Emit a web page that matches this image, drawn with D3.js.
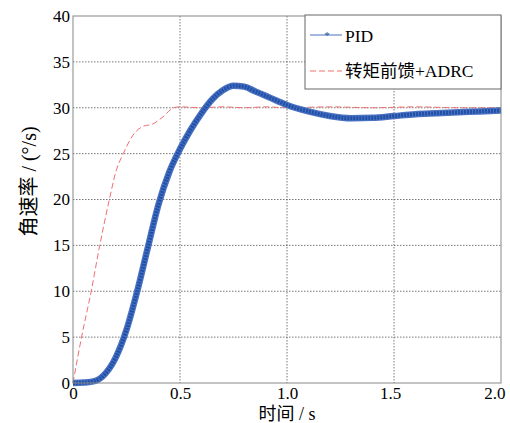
<!DOCTYPE html>
<html>
<head>
<meta charset="utf-8">
<script src="https://cdn.jsdelivr.net/npm/d3@7"></script>
<style>
  body { margin: 0; background: #fff; }
  text { font-family: "Liberation Serif", "Noto Sans CJK SC", serif; }
</style>
</head>
<body>
<div id="chart"></div>
<script>
// data
const pidTime = [0, 0.05, 0.1, 0.15, 0.2, 0.25, 0.3, 0.35, 0.4, 0.45, 0.5, 0.55, 0.6, 0.65, 0.7, 0.75, 0.8, 0.85, 0.9, 0.95, 1.0, 1.1, 1.2, 1.3, 1.4, 1.5, 1.6, 1.7, 1.8, 1.9, 2.0];
const pidRate = [0, 0.05, 0.2, 1.0, 2.8, 5.8, 10, 14.8, 19.5, 23, 25.5, 27.6, 29.4, 30.9, 31.9, 32.4, 32.3, 31.8, 31.3, 30.8, 30.3, 29.6, 29.1, 28.85, 28.9, 29.1, 29.3, 29.4, 29.5, 29.6, 29.7];
const adrcTime = [0, 0.04, 0.085, 0.125, 0.17, 0.2, 0.235, 0.28, 0.33, 0.37, 0.42, 0.47, 0.5, 0.6, 0.7, 0.8, 0.9, 1.0, 1.2, 1.4, 1.6, 1.8, 2.0];
const adrcRate = [0, 5, 10, 15, 20, 23, 25, 27, 28, 28.2, 29, 30, 30.1, 30.0, 30.1, 30.0, 30.1, 30.0, 30.1, 30.0, 30.1, 30.0, 30.0];
const xTicks = [0, 0.5, 1.0, 1.5, 2.0];
const xTickLabels = ["0", "0.5", "1.0", "1.5", "2.0"];
const yTicks = [0, 5, 10, 15, 20, 25, 30, 35, 40];
const seriesNames = ["PID", "转矩前馈+ADRC"];

const margin = {top: 16, right: 9, bottom: 40, left: 73};
const width = 510 - margin.left - margin.right;
const height = 423 - margin.top - margin.bottom;

const svg = d3.select("#chart")
  .append("svg")
  .attr("width", 510)
  .attr("height", 423)
  .append("g")
  .attr("transform", `translate(${margin.left},${margin.top})`);

const x = d3.scaleLinear().domain([0, 2]).range([0, width]);
const y = d3.scaleLinear().domain([0, 40]).range([height, 0]);

// grid
svg.selectAll(".xgrid")
  .data(xTicks.slice(1, -1))
  .join("line")
  .attr("x1", d => x(d)).attr("x2", d => x(d))
  .attr("y1", 0).attr("y2", height)
  .attr("stroke", "#555").attr("stroke-width", 0.8)
  .attr("stroke-dasharray", "1.5,1.5");

svg.selectAll(".ygrid")
  .data(yTicks.slice(1, -1))
  .join("line")
  .attr("x1", 0).attr("x2", width)
  .attr("y1", d => y(d)).attr("y2", d => y(d))
  .attr("stroke", "#555").attr("stroke-width", 0.8)
  .attr("stroke-dasharray", "1.5,1.5");

// axes
svg.append("g")
  .attr("transform", `translate(0,${height})`)
  .call(d3.axisBottom(x).tickValues(xTicks).tickFormat((d, i) => xTickLabels[i]).tickSize(0).tickPadding(4))
  .call(g => g.select(".domain").remove())
  .selectAll("text")
  .style("font-size", "17px")
  .attr("fill", "#000")
  // the last label is pulled in so it stays inside the picture
  .attr("text-anchor", (d, i) => i === xTicks.length - 1 ? "end" : "middle")
  .attr("dx", (d, i) => i === xTicks.length - 1 ? 4 : (i === 3 ? -4 : 0));

svg.append("g")
  .call(d3.axisLeft(y).tickValues(yTicks).tickSize(0).tickPadding(3))
  .call(g => g.select(".domain").remove())
  .selectAll("text")
  .style("font-size", "17px")
  .attr("fill", "#000");

// curves
const line = d3.line()
  .x(d => x(d[0]))
  .y(d => y(d[1]))
  .curve(d3.curveMonotoneX);

const adrc = adrcTime.map((t, i) => [t, adrcRate[i]]);
const pid = pidTime.map((t, i) => [t, pidRate[i]]);

svg.append("path")
  .datum(adrc)
  .attr("fill", "none")
  .attr("stroke", "#f07070")
  .attr("stroke-width", 1)
  .attr("stroke-dasharray", "6,3")
  .attr("d", line);

svg.append("path")
  .datum(pid)
  .attr("fill", "none")
  .attr("stroke", "#4a72c0")
  .attr("stroke-width", 6.5)
  .attr("d", line);

svg.append("path")
  .datum(pid)
  .attr("fill", "none")
  .attr("stroke", "#2150a8")
  .attr("stroke-width", 4)
  .attr("stroke-dasharray", "2,1")
  .attr("d", line);

// frame
svg.append("rect")
  .attr("width", width).attr("height", height)
  .attr("fill", "none")
  .attr("stroke", "#888").attr("stroke-width", 1);

// legend
const legend = svg.append("g").attr("transform", `translate(${width - 196},-1)`);
legend.append("rect")
  .attr("width", 196).attr("height", 74)
  .attr("fill", "#fff")
  .attr("stroke", "#666").attr("stroke-width", 1);

legend.append("line")
  .attr("x1", 5).attr("x2", 37).attr("y1", 20).attr("y2", 20)
  .attr("stroke", "#4a72c0").attr("stroke-width", 1);
legend.append("text")
  .attr("x", 22).attr("y", 24)
  .attr("text-anchor", "middle")
  .attr("fill", "#2150a8")
  .style("font-size", "11px")
  .text("*");
legend.append("line")
  .attr("x1", 5).attr("x2", 37).attr("y1", 56).attr("y2", 56)
  .attr("stroke", "#f07070").attr("stroke-width", 1)
  .attr("stroke-dasharray", "6,3");

legend.selectAll(".name")
  .data(seriesNames)
  .join("text")
  .attr("x", 40)
  .attr("y", (d, i) => 27 + i * 35)
  .style("font-size", "17.5px")
  .attr("fill", "#000")
  .text(d => d);

// axis titles
svg.append("text")
  .attr("x", width / 2)
  .attr("y", height + 37)
  .attr("text-anchor", "middle")
  .style("font-size", "18px")
  .text("时间 / s");

svg.append("text")
  .attr("transform", "rotate(-90)")
  .attr("x", -height / 2 + 18)
  .attr("y", -37)
  .attr("text-anchor", "middle")
  .style("font-size", "20px")
  .text("角速率 / (°/s)");
</script>
</body>
</html>
